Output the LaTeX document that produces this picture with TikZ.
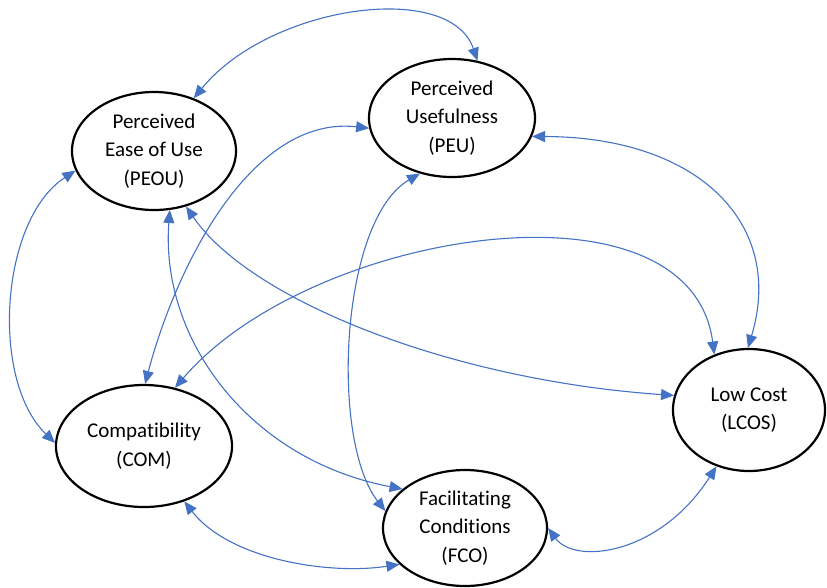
\documentclass[tikz,border=0pt]{standalone}
\usepackage{fontspec}
\setmainfont{Carlito}[Ligatures=NoCommon]
\usetikzlibrary{shapes.geometric,arrows.meta}
\definecolor{linkblue}{HTML}{4472C4}
\begin{document}
\begin{tikzpicture}[x=1pt,y=-1pt,
  construct/.style={ellipse,draw=black,line width=2.2pt,inner sep=0pt,outer sep=1.1pt,align=center,font=\fontsize{21}{28.5}\selectfont},
  link/.style={draw=linkblue,line width=1.1pt,{Triangle[length=13pt,width=11pt]}-{Triangle[length=13pt,width=11pt]}}]
\useasboundingbox (0,0) rectangle (827,587);
\node[construct,minimum width=164pt,minimum height=118pt] (peou) at (154,151) {Perceived\\Ease of Use\\(PEOU)};
\node[construct,minimum width=166pt,minimum height=118pt] (peu) at (452,118) {Perceived\\Usefulness\\(PEU)};
\node[construct,minimum width=152pt,minimum height=122pt] (lcos) at (749,410) {Low Cost\\(LCOS)};
\node[construct,minimum width=176pt,minimum height=122pt] (com) at (144,446) {Compatibility\\(COM)};
\node[construct,minimum width=164pt,minimum height=116pt] (fco) at (465,528) {Facilitating\\Conditions\\(FCO)};
\draw[link] (peou.53) .. controls (270,5) and (450,-20) .. (peu.66);
\draw[link] (peou.194) .. controls (0,220) and (-10,380) .. (com.178);
\draw[link] (com.89) .. controls (175,270) and (250,115) .. (peu.187);
\draw[link] (peou.285) .. controls (160,340) and (250,460) .. (fco.148);
\draw[link] (peou.300) .. controls (250,300) and (450,380) .. (lcos.169);
\draw[link] (com.62) .. controls (310,230) and (690,170) .. (lcos.122);
\draw[link] (peu.347) .. controls (700,137) and (785,225) .. (lcos.91);
\draw[link] (peu.240) .. controls (340,220) and (330,440) .. (fco.168);
\draw[link] (com.306) .. controls (230,560) and (330,575) .. (fco.209);
\draw[link] (fco.0) .. controls (575,565) and (660,555) .. (lcos.240);
\end{tikzpicture}
\end{document}
